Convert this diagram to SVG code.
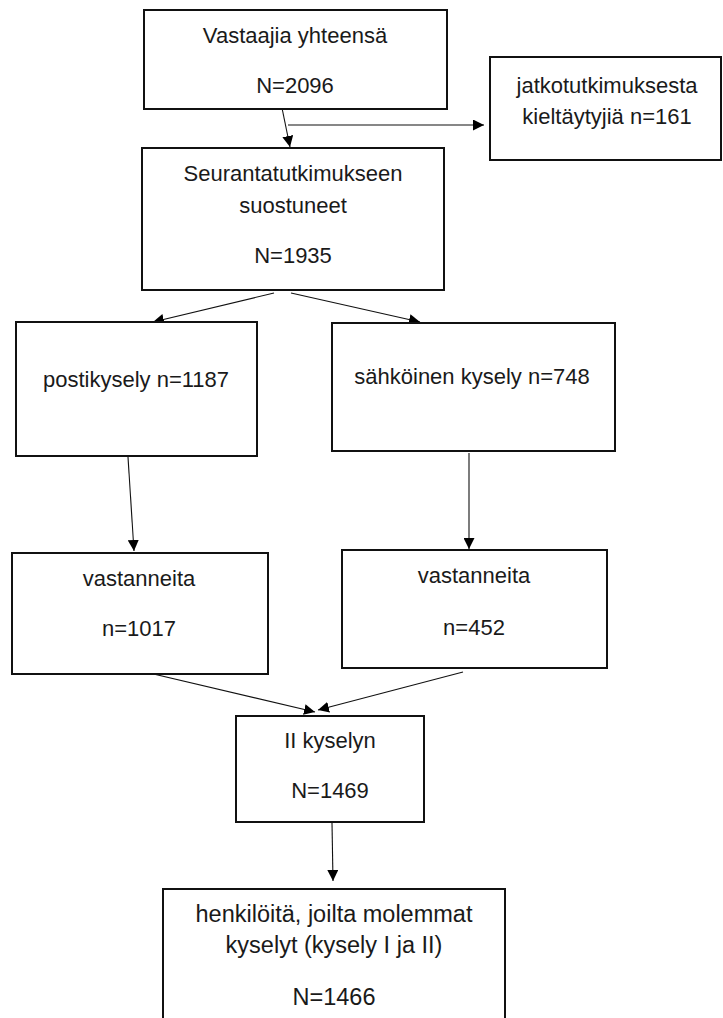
<svg xmlns="http://www.w3.org/2000/svg" width="723" height="1018" viewBox="0 0 723 1018">
<style>
.box{fill:#fff;stroke:#111;stroke-width:2}
.t{font-family:"Liberation Sans",Arial,sans-serif;font-size:22px;fill:#1a1a1a;text-anchor:middle}
.tb{font-size:23.5px}
.c{stroke:#111;stroke-width:1.1;fill:none;marker-end:url(#ah)}
</style>
<defs>
<marker id="ah" viewBox="0 0 10 10" refX="10" refY="5" markerWidth="11" markerHeight="11" markerUnits="userSpaceOnUse" orient="auto">
<path d="M0,0 L10,5 L0,10 z" fill="#000"/>
</marker>
</defs>
<rect width="723" height="1018" fill="#fff"/>
<g id="connectors">
<line class="c" x1="282" y1="108" x2="290" y2="147"/>
<line class="c" x1="288" y1="125" x2="484" y2="125"/>
<line class="c" x1="274" y1="293" x2="153" y2="322"/>
<line class="c" x1="291" y1="293" x2="420" y2="322"/>
<line class="c" x1="128" y1="457" x2="134" y2="551"/>
<line class="c" x1="469" y1="453" x2="469" y2="549"/>
<line class="c" x1="145" y1="672" x2="315" y2="712"/>
<line class="c" x1="463" y1="672" x2="318" y2="710"/>
<line class="c" x1="332" y1="823" x2="333" y2="881"/>
</g>
<g id="n1"><rect class="box" x="144" y="10" width="303" height="99"/>
<text class="t" x="295" y="43">Vastaajia yhteensä</text>
<text class="t" x="295" y="93">N=2096</text></g>
<g id="n2"><rect class="box" x="490" y="57" width="231" height="103"/>
<text class="t" x="607" y="93">jatkotutkimuksesta</text>
<text class="t" x="607" y="124">kieltäytyjiä n=161</text></g>
<g id="n3"><rect class="box" x="142" y="148" width="302" height="142"/>
<text class="t" x="293" y="181">Seurantatutkimukseen</text>
<text class="t" x="293" y="213">suostuneet</text>
<text class="t" x="293" y="263">N=1935</text></g>
<g id="n4"><rect class="box" x="16" y="322" width="241" height="134"/>
<text class="t" x="136" y="387">postikysely n=1187</text></g>
<g id="n5"><rect class="box" x="332" y="323" width="283" height="128"/>
<text class="t" x="472" y="384">sähköinen kysely n=748</text></g>
<g id="n6"><rect class="box" x="12" y="553" width="256" height="121"/>
<text class="t" x="139" y="586">vastanneita</text>
<text class="t" x="139" y="636">n=1017</text></g>
<g id="n7"><rect class="box" x="342" y="550" width="265" height="118"/>
<text class="t" x="474" y="583">vastanneita</text>
<text class="t" x="474" y="635">n=452</text></g>
<g id="n8"><rect class="box" x="236" y="716" width="188" height="106"/>
<text class="t" x="330" y="748">II kyselyn</text>
<text class="t" x="330" y="798">N=1469</text></g>
<g id="n9"><rect class="box" x="163" y="889" width="342" height="160"/>
<text class="t tb" x="334" y="922">henkilöitä, joilta molemmat</text>
<text class="t tb" x="334" y="953">kyselyt (kysely I ja II)</text>
<text class="t tb" x="334" y="1005">N=1466</text></g>
</svg>
